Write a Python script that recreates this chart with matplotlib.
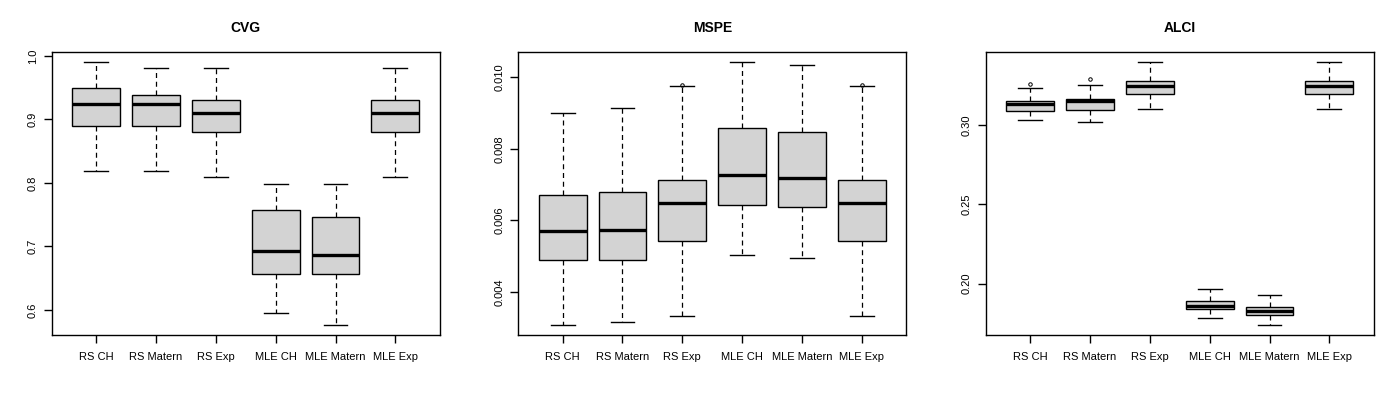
import matplotlib
matplotlib.use("Agg")
import matplotlib.pyplot as plt

plt.rcParams['font.family'] = ['Liberation Sans', 'DejaVu Sans']

methods = ["RS CH", "RS Matern", "RS Exp", "MLE CH", "MLE Matern", "MLE Exp"]

# CVG
cvg_low = [0.818, 0.818, 0.809, 0.595, 0.577, 0.809]
cvg_q1 = [0.889, 0.889, 0.880, 0.657, 0.657, 0.880]
cvg_med = [0.924, 0.924, 0.910, 0.692, 0.687, 0.910]
cvg_q3 = [0.949, 0.939, 0.930, 0.758, 0.747, 0.930]
cvg_high = [0.990, 0.981, 0.981, 0.798, 0.798, 0.981]
cvg_out = [[], [], [], [], [], []]

# MSPE
mspe_low = [0.00309, 0.00315, 0.00332, 0.00504, 0.00496, 0.00332]
mspe_q1 = [0.00488, 0.00490, 0.00542, 0.00642, 0.00636, 0.00542]
mspe_med = [0.00570, 0.00572, 0.00648, 0.00726, 0.00717, 0.00648]
mspe_q3 = [0.00672, 0.00678, 0.00714, 0.00857, 0.00846, 0.00714]
mspe_high = [0.00901, 0.00913, 0.00976, 0.01042, 0.01034, 0.00976]
mspe_out = [[], [], [0.00979], [], [], [0.00979]]

# ALCI
alci_low = [0.3032, 0.3019, 0.3101, 0.1779, 0.1741, 0.3101]
alci_q1 = [0.3089, 0.3095, 0.3196, 0.1842, 0.1804, 0.3196]
alci_med = [0.3133, 0.3154, 0.3249, 0.1861, 0.1825, 0.3249]
alci_q3 = [0.3152, 0.3165, 0.3279, 0.1890, 0.1854, 0.3279]
alci_high = [0.3234, 0.3253, 0.3399, 0.1968, 0.1930, 0.3399]
alci_out = [[0.3260], [0.3291], [], [], [], []]

panels = [
    ("CVG", cvg_low, cvg_q1, cvg_med, cvg_q3, cvg_high, cvg_out, [0.6, 0.7, 0.8, 0.9, 1.0], "{:.1f}"),
    ("MSPE", mspe_low, mspe_q1, mspe_med, mspe_q3, mspe_high, mspe_out, [0.004, 0.006, 0.008, 0.010], "{:.3f}"),
    ("ALCI", alci_low, alci_q1, alci_med, alci_q3, alci_high, alci_out, [0.20, 0.25, 0.30], "{:.2f}"),
]

fig = plt.figure(figsize=(14, 4), dpi=100)
lefts = [51.7, 518.3, 985.7]
for (title, lo, q1, med, q3, hi, out, yt, fmt), lp in zip(panels, lefts):
    ax = fig.add_axes([lp / 1400, 65 / 400, 388 / 1400, 283.3 / 400])
    stats = []
    for i in range(len(methods)):
        stats.append(dict(whislo=lo[i], q1=q1[i], med=med[i], q3=q3[i],
                          whishi=hi[i], fliers=out[i], label=methods[i]))
    ax.bxp(stats, positions=range(1, 7), widths=0.8, patch_artist=True,
           showfliers=True,
           boxprops=dict(facecolor="#D3D3D3", edgecolor="black", linewidth=1.0),
           medianprops=dict(color="black", linewidth=2.4, solid_capstyle="butt"),
           whiskerprops=dict(color="black", linewidth=0.9, linestyle=(0, (4, 3))),
           capprops=dict(color="black", linewidth=1.0),
           capwidths=0.4,
           flierprops=dict(marker="o", markersize=2.5, markerfacecolor="none",
                           markeredgecolor="black", markeredgewidth=0.7))
    allv = lo + hi + [v for o in out for v in o]
    vmin, vmax = min(allv), max(allv)
    r = vmax - vmin
    ax.set_ylim(vmin - 0.04 * r, vmax + 0.04 * r)
    ax.set_xlim(0.26, 6.74)
    ax.set_yticks(yt)
    ax.set_yticklabels([fmt.format(v) for v in yt], rotation=90, va="center", fontsize=8)
    ax.set_xticks(range(1, 7))
    ax.set_xticklabels(methods, fontsize=8)
    ax.tick_params(axis="both", length=6, width=1.0, color="black", pad=6)
    ax.tick_params(axis="y", pad=4)
    for s in ax.spines.values():
        s.set_linewidth(1.0)
    ax.set_title(title, fontsize=10, fontweight="bold", pad=14)

fig.savefig("out.png", dpi=100)
